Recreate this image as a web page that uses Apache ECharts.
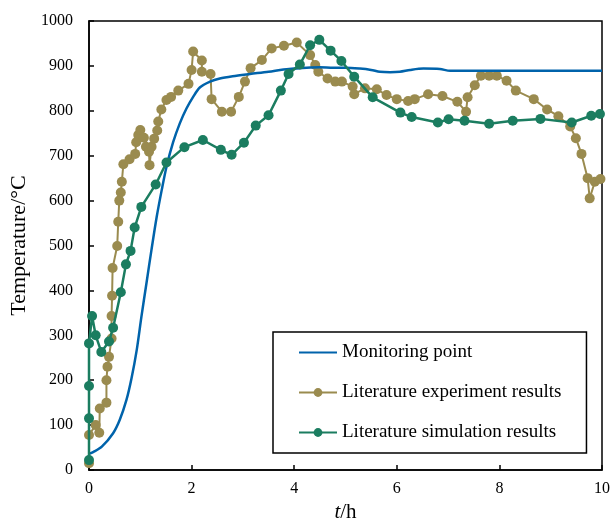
<!DOCTYPE html>
<html><head><meta charset="utf-8">
<script src="https://cdn.jsdelivr.net/npm/echarts@6/dist/echarts.min.js"></script>
<style>html,body{margin:0;padding:0;background:#fff}#c{width:612px;height:518px}</style>
</head><body><div id="c"></div>
<script>
const xTicks = [0, 2, 4, 6, 8, 10];
const yTicks = [0, 100, 200, 300, 400, 500, 600, 700, 800, 900, 1000];

const monT = [0, 0.08, 0.25, 0.47, 0.6, 0.73, 0.83, 0.93, 1.02, 1.12, 1.22, 1.32, 1.42, 1.51, 1.64, 1.77, 1.9, 2.03, 2.16, 2.36, 2.55, 2.8, 3.14, 3.5, 3.79, 4.0, 4.24, 4.5, 4.76, 5.0, 5.28, 5.5, 5.67, 5.87, 6.06, 6.26, 6.52, 6.84, 7.04, 7.5, 8, 9, 10];
const monV = [36, 40, 52, 82, 112, 156, 205, 267, 340, 416, 492, 564, 625, 675, 730, 772, 805, 831, 852, 865, 872, 877, 882, 887, 892, 894, 896, 897, 896, 896, 894, 891, 887, 886, 887, 891, 894, 893, 889, 889, 889, 889, 889];

const expT = [0, 0, 0.13, 0.2, 0.21, 0.34, 0.34, 0.36, 0.39, 0.44, 0.44, 0.45, 0.46, 0.55, 0.57, 0.59, 0.62, 0.64, 0.67, 0.79, 0.9, 0.92, 0.96, 1.0, 1.07, 1.11, 1.17, 1.18, 1.22, 1.27, 1.33, 1.35, 1.41, 1.51, 1.6, 1.74, 1.94, 2.0, 2.03, 2.2, 2.2, 2.37, 2.39, 2.59, 2.77, 2.92, 3.04, 3.15, 3.37, 3.56, 3.8, 4.05, 4.31, 4.41, 4.47, 4.65, 4.8, 4.93, 5.14, 5.17, 5.38, 5.61, 5.8, 6.0, 6.22, 6.35, 6.61, 6.89, 7.18, 7.35, 7.38, 7.52, 7.64, 7.8, 7.95, 8.14, 8.32, 8.67, 8.93, 9.15, 9.38, 9.49, 9.6, 9.72, 9.76, 9.86, 9.97];
const expV = [15, 78, 100, 83, 137, 150, 200, 230, 252, 293, 343, 388, 450, 499, 553, 600, 618, 642, 681, 692, 704, 730, 746, 757, 740, 720, 709, 679, 720, 738, 756, 776, 803, 824, 831, 845, 860, 891, 932, 912, 887, 882, 826, 798, 798, 831, 865, 895, 913, 939, 945, 952, 924, 902, 887, 872, 865, 865, 854, 837, 850, 848, 835, 826, 822, 826, 837, 833, 820, 798, 830, 857, 878, 878, 878, 867, 845, 826, 803, 788, 765, 739, 704, 650, 605, 642, 648];

const simT = [0, 0, 0, 0, 0.06, 0.13, 0.24, 0.39, 0.47, 0.62, 0.72, 0.81, 0.89, 1.02, 1.3, 1.51, 1.86, 2.22, 2.57, 2.78, 3.02, 3.25, 3.5, 3.74, 3.89, 4.11, 4.31, 4.49, 4.71, 4.92, 5.17, 5.53, 6.07, 6.29, 6.8, 7.01, 7.32, 7.8, 8.26, 8.8, 9.41, 9.79, 9.96];
const simV = [22, 115, 187, 282, 343, 300, 263, 286, 317, 396, 458, 488, 540, 586, 636, 685, 719, 735, 713, 702, 729, 767, 790, 845, 882, 903, 946, 958, 934, 911, 876, 830, 796, 786, 774, 781, 778, 771, 778, 782, 774, 789, 793];

const names = ['Monitoring point', 'Literature experiment results', 'Literature simulation results'];
const colors = ['#0063ab', '#9a8b4f', '#1b7d60'];

const zip = (a, b) => a.map((t, i) => [t, b[i]]);
const font = '"Liberation Serif", "Times New Roman", serif';

const chart = echarts.init(document.getElementById('c'), null, {renderer: 'canvas'});
chart.setOption({
  animation: false,
  backgroundColor: '#fff',
  grid: {left: 89, right: 10, top: 21, bottom: 48, outerBoundsMode: 'none', containLabel: false,
         show: true, borderColor: '#000', borderWidth: 1.5, backgroundColor: 'transparent'},
  xAxis: {
    type: 'value', min: xTicks[0], max: xTicks[xTicks.length - 1], interval: 2,
    name: '{i|t}/h', nameLocation: 'middle', nameGap: 24,
    nameTextStyle: {fontFamily: font, fontSize: 21, color: '#000', rich: {i: {fontFamily: font, fontStyle: 'italic', fontSize: 21, color: '#000'}}},
    axisLine: {lineStyle: {color: '#000', width: 1.5}},
    axisTick: {inside: true, length: 5, lineStyle: {color: '#000', width: 1.5}},
    axisLabel: {fontFamily: font, fontSize: 16, color: '#000', margin: 11},
    splitLine: {show: false}
  },
  yAxis: {
    type: 'value', min: yTicks[0], max: yTicks[yTicks.length - 1], interval: 100,
    name: 'Temperature/°C', nameLocation: 'middle', nameGap: 53, nameRotate: 90,
    nameTextStyle: {fontFamily: font, fontSize: 22, color: '#000'},
    axisLine: {lineStyle: {color: '#000', width: 1.5}},
    axisTick: {inside: true, length: 5, lineStyle: {color: '#000', width: 1.5}},
    axisLabel: {fontFamily: font, fontSize: 16, color: '#000', margin: 16, formatter: v => String(v)},
    splitLine: {show: false}
  },
  legend: {
    orient: 'vertical', left: 273, top: 332,
    padding: [11, 25, 11, 25], itemGap: 21, itemWidth: 38, itemHeight: 11,
    borderColor: '#000', borderWidth: 1.5, backgroundColor: '#fff',
    textStyle: {fontFamily: font, fontSize: 19, color: '#000'},
    data: [
      {name: names[0], itemStyle: {opacity: 0}},
      {name: names[1]},
      {name: names[2]}
    ]
  },
  series: [
    {name: names[0], type: 'line', data: zip(monT, monV), smooth: 0.3, showSymbol: false, symbol: 'none',
     lineStyle: {color: colors[0], width: 2.5}, itemStyle: {color: colors[0]}, z: 3},
    {name: names[1], type: 'line', data: zip(expT, expV), symbol: 'circle', symbolSize: 10,
     lineStyle: {color: colors[1], width: 2}, itemStyle: {color: colors[1]}, z: 2},
    {name: names[2], type: 'line', data: zip(simT, simV), symbol: 'circle', symbolSize: 10,
     lineStyle: {color: colors[2], width: 2.5}, itemStyle: {color: colors[2]}, z: 4}
  ]
});
</script></body></html>
